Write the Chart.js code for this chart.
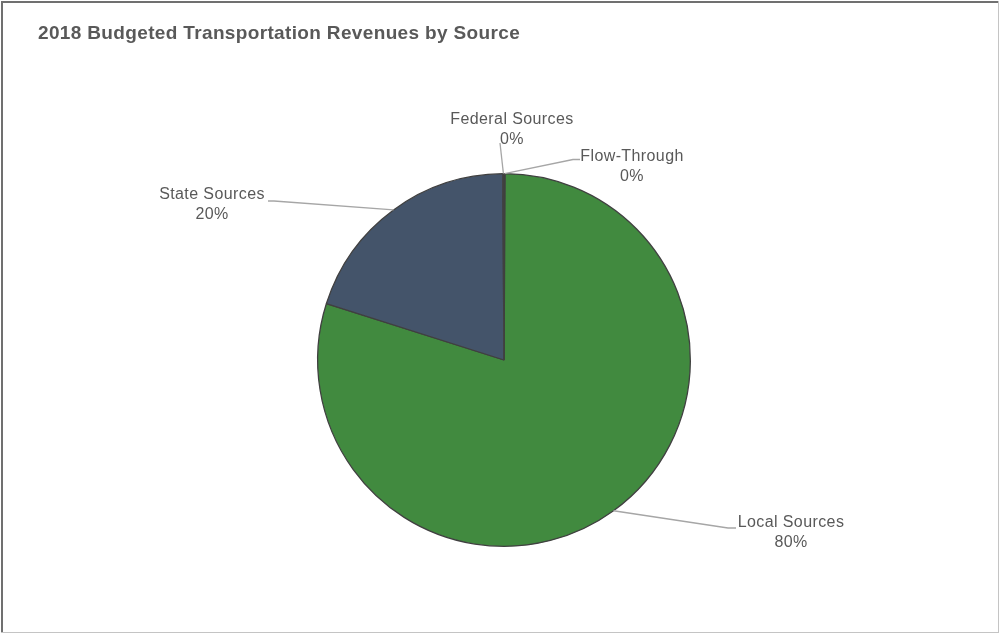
<!DOCTYPE html>
<html>
<head>
<meta charset="utf-8">
<title>2018 Budgeted Transportation Revenues by Source</title>
<script src="https://cdn.jsdelivr.net/npm/chart.js@4/dist/chart.umd.min.js"></script>
<style>
  html, body { margin: 0; padding: 0; background: #ffffff; }
  #wrap { position: relative; width: 1000px; height: 634px; }
  canvas { display: block; }
</style>
</head>
<body>
<div id="wrap"><canvas id="chart" width="1000" height="634"></canvas></div>
<script>
// Revenue sources, in drawing order (clockwise from 12 o'clock)
const categories = ['Flow-Through', 'Local Sources', 'State Sources', 'Federal Sources'];
// Share of budgeted revenue, percent
const shares = [0.1, 79.8, 20.0, 0.1];
const sliceColors = ['#4472C4', '#418A3F', '#44546A', '#A5A5A5'];

const chartTitle = '2018 Budgeted Transportation Revenues by Source';
const textColor = '#595959';

// Where each data label sits (first-line baseline centre) and how its leader line bends
const labelLayout = {
  'Flow-Through':    { x: 632, y: 160.5, elbow: [573, 159.5], end: [580, 159.5] },
  'Local Sources':   { x: 791, y: 527,   elbow: [728, 528],   end: [736, 528] },
  'State Sources':   { x: 212, y: 199,   elbow: [274, 201],   end: [268, 201] },
  'Federal Sources': { x: 512, y: 123.5, elbow: null,         end: [500, 143] }
};

const frameAndTitle = {
  id: 'frameAndTitle',
  afterDraw(chart) {
    const ctx = chart.ctx;
    ctx.save();
    // outer frame
    ctx.fillStyle = '#707070';
    ctx.fillRect(1, 1, 998, 2);
    ctx.fillRect(1, 1, 2, 632);
    ctx.fillStyle = '#c4c4c4';
    ctx.fillRect(998, 1, 1, 632);
    ctx.fillRect(1, 632, 998, 1);
    // title
    ctx.fillStyle = textColor;
    ctx.font = 'bold 19px "Liberation Sans", Arial, sans-serif';
    ctx.letterSpacing = '0.35px';
    ctx.textAlign = 'left';
    ctx.textBaseline = 'alphabetic';
    ctx.fillText(chartTitle, 38, 38.5);
    ctx.restore();
  }
};

const leaderLabels = {
  id: 'leaderLabels',
  afterDatasetsDraw(chart) {
    const ctx = chart.ctx;
    const meta = chart.getDatasetMeta(0);
    const data = chart.data.datasets[0].data;
    const total = data.reduce((a, b) => a + b, 0);
    ctx.save();
    meta.data.forEach((arc, i) => {
      const name = chart.data.labels[i];
      const lay = labelLayout[name];
      if (!lay) return;
      const p = arc.getProps(['x', 'y', 'startAngle', 'endAngle', 'outerRadius'], true);
      const mid = (p.startAngle + p.endAngle) / 2;
      const ax = p.x + Math.cos(mid) * p.outerRadius;
      const ay = p.y + Math.sin(mid) * p.outerRadius;
      // leader line
      ctx.strokeStyle = '#a6a6a6';
      ctx.lineWidth = 1.3;
      ctx.beginPath();
      ctx.moveTo(ax, ay);
      if (lay.elbow) ctx.lineTo(lay.elbow[0], lay.elbow[1]);
      ctx.lineTo(lay.end[0], lay.end[1]);
      ctx.stroke();
      // label text
      const pct = Math.round(data[i] / total * 100) + '%';
      ctx.fillStyle = textColor;
      ctx.font = '16px "Liberation Sans", Arial, sans-serif';
      ctx.letterSpacing = '0.4px';
      ctx.textAlign = 'center';
      ctx.textBaseline = 'alphabetic';
      ctx.fillText(name, lay.x, lay.y);
      ctx.fillText(pct, lay.x, lay.y + 20);
    });
    ctx.restore();
  }
};

new Chart(document.getElementById('chart'), {
  type: 'pie',
  data: {
    labels: categories,
    datasets: [{
      data: shares,
      backgroundColor: sliceColors,
      borderColor: '#404040',
      borderWidth: 1.3
    }]
  },
  options: {
    responsive: false,
    animation: false,
    devicePixelRatio: 1,
    layout: { padding: { left: 317, right: 309, top: 173, bottom: 87 } },
    plugins: {
      legend: { display: false },
      title: { display: false },
      tooltip: { enabled: false }
    }
  },
  plugins: [frameAndTitle, leaderLabels]
});
</script>
</body>
</html>
